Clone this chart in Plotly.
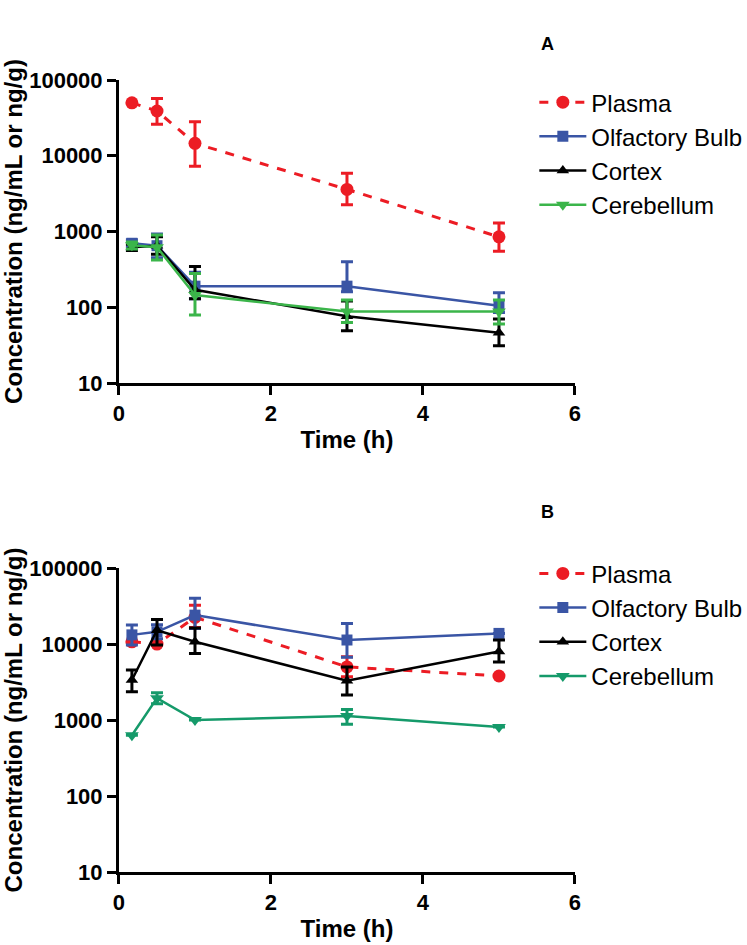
import plotly.graph_objects as go

time_h = [0.17, 0.5, 1, 3, 5]
series_names = ["Plasma", "Olfactory Bulb", "Cortex", "Cerebellum"]

# panel A (mean, upper error, lower error)
a_plasma = [50000, 39000, 14600, 3600, 850]
a_plasma_up = [0, 18000, 13600, 2300, 450]
a_plasma_dn = [0, 13000, 7300, 1350, 300]
a_olf = [700, 650, 190, 190, 105]
a_olf_up = [80, 280, 100, 210, 50]
a_olf_dn = [80, 200, 60, 30, 20]
a_ctx = [620, 650, 170, 76, 46]
a_ctx_up = [60, 200, 175, 45, 24]
a_ctx_dn = [60, 150, 40, 27, 15]
a_cbl = [660, 620, 145, 88, 88]
a_cbl_up = [70, 280, 135, 37, 37]
a_cbl_dn = [70, 200, 66, 25, 28]

# panel B
b_plasma = [10700, 10000, 22500, 5000, 3800]
b_plasma_up = [0, 0, 10000, 1800, 0]
b_plasma_dn = [0, 0, 6000, 1300, 0]
b_olf = [13200, 14500, 24000, 11300, 13800]
b_olf_up = [4600, 3500, 16000, 7400, 0]
b_olf_dn = [3500, 2800, 8000, 4600, 0]
b_ctx = [3370, 15200, 10700, 3300, 8000]
b_ctx_up = [1180, 5900, 5500, 1700, 3300]
b_ctx_dn = [1010, 5500, 3200, 1170, 2200]
b_cbl = [630, 1940, 1000, 1130, 810]
b_cbl_up = [0, 350, 0, 250, 0]
b_cbl_dn = [0, 300, 0, 250, 0]

red = "#ec1c24"
blue = "#3a55a5"
black = "#000000"
green_a = "#3bb54a"
green_b = "#159a6a"

styles = [
    (red, "circle", 13, "dash"),
    (blue, "square", 11, "solid"),
    (black, "triangle-up", 11, "solid"),
    (None, "triangle-down", 12, "solid"),
]

fig = go.Figure()

panel_a = [(a_plasma, a_plasma_up, a_plasma_dn), (a_olf, a_olf_up, a_olf_dn),
           (a_ctx, a_ctx_up, a_ctx_dn), (a_cbl, a_cbl_up, a_cbl_dn)]
panel_b = [(b_plasma, b_plasma_up, b_plasma_dn), (b_olf, b_olf_up, b_olf_dn),
           (b_ctx, b_ctx_up, b_ctx_dn), (b_cbl, b_cbl_up, b_cbl_dn)]

for panel, xa, ya, leg, green in [(panel_a, "x", "y", "legend", green_a),
                                  (panel_b, "x2", "y2", "legend2", green_b)]:
    for name, (vals, up, dn), (col, sym, size, dash) in zip(series_names, panel, styles):
        c = col or green
        fig.add_trace(go.Scatter(
            x=time_h, y=vals, name=name, xaxis=xa, yaxis=ya, legend=leg,
            mode="lines+markers",
            line=dict(color=c, width=3 if dash == "dash" else 2.5, dash=dash),
            marker=dict(color=c, symbol=sym, size=size),
            error_y=dict(type="data", symmetric=False, array=up, arrayminus=dn,
                         color=c, thickness=3, width=6),
        ))

font = "Liberation Sans, Arial, sans-serif"
ax_common = dict(showline=True, linecolor="black", linewidth=3, ticks="outside",
                 ticklen=9, tickwidth=3, tickcolor="black", showgrid=False,
                 zeroline=False, automargin=False,
                 tickfont=dict(family=font, size=22, color="black", weight="bold"))
x_common = dict(ax_common, range=[0, 6], tickvals=[0, 2, 4, 6],
                title=dict(text="<b>Time (h)</b>", font=dict(family=font, size=24, color="black"), standoff=6))
y_common = dict(ax_common, type="log", range=[1, 5],
                tickvals=[10, 100, 1000, 10000, 100000],
                ticktext=["10", "100", "1000", "10000", "100000"],
                title=dict(text="<b>Concentration (ng/mL or ng/g)</b>",
                           font=dict(family=font, size=24, color="black"), standoff=6))

leg_common = dict(font=dict(family=font, size=24, color="black"), bgcolor="rgba(0,0,0,0)",
                  xanchor="left", yanchor="top", itemwidth=47, tracegroupgap=0)

fig.update_layout(
    width=747, height=945,
    margin=dict(l=0, r=0, t=0, b=0, autoexpand=False),
    paper_bgcolor="white", plot_bgcolor="white",
    xaxis=dict(x_common, domain=[0.1593, 0.7697], anchor="y"),
    yaxis=dict(y_common, domain=[0.5947, 0.9153], anchor="x"),
    xaxis2=dict(x_common, domain=[0.1593, 0.7697], anchor="y2"),
    yaxis2=dict(y_common, domain=[0.0772, 0.3989], anchor="x2"),
    legend=dict(leg_common, x=0.7153, y=0.9153),
    legend2=dict(leg_common, x=0.7153, y=0.4166),
    annotations=[
        dict(text="<b>A</b>", x=0.7323, y=0.9534, xref="paper", yref="paper",
             xanchor="center", yanchor="middle", showarrow=False,
             font=dict(family=font, size=18, color="black")),
        dict(text="<b>B</b>", x=0.7323, y=0.4582, xref="paper", yref="paper",
             xanchor="center", yanchor="middle", showarrow=False,
             font=dict(family=font, size=18, color="black")),
    ],
)

# drop the default page margin so the figure sits at the window's corner
fig.write_html("out.html", config={"displayModeBar": False},
               post_script="document.body.style.margin='0';")
